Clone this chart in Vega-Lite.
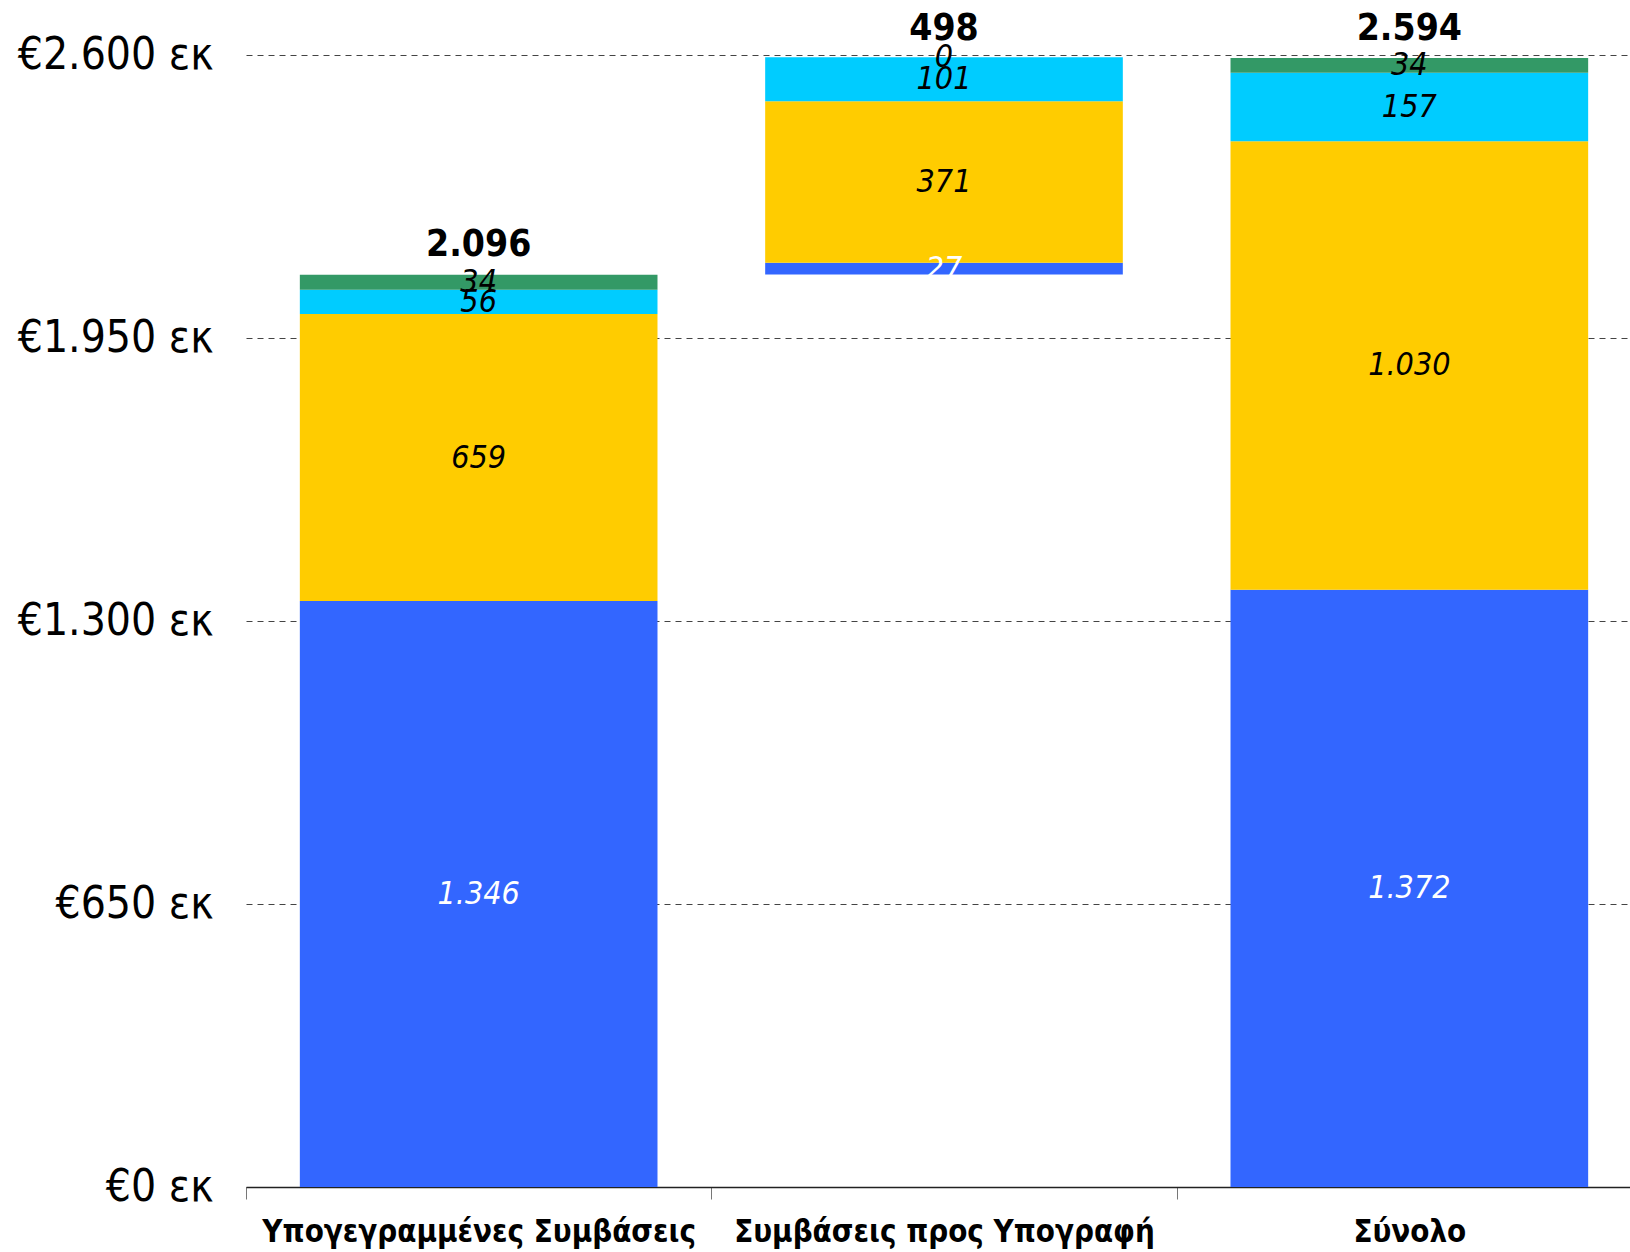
{
  "$schema": "https://vega.github.io/schema/vega-lite/v6.json",
  "width": 1396,
  "height": 1132,
  "autosize": {"type": "none"},
  "padding": {"left": 246, "top": 55, "right": 0, "bottom": 65},
  "background": "white",
  "config": {
    "view": {"stroke": null},
    "font": "DejaVu Sans Condensed",
    "locale": {
      "number": {"decimal": ",", "thousands": ".", "grouping": [3], "currency": ["€", " εκ"]}
    }
  },
  "datasets": {
    "segments": [
      {"category": "Υπογεγραμμένες Συμβάσεις", "series": "Α", "value": 1346},
      {"category": "Υπογεγραμμένες Συμβάσεις", "series": "Β", "value": 659},
      {"category": "Υπογεγραμμένες Συμβάσεις", "series": "Γ", "value": 56},
      {"category": "Υπογεγραμμένες Συμβάσεις", "series": "Δ", "value": 34},
      {"category": "Συμβάσεις προς Υπογραφή", "series": "base", "value": 2096},
      {"category": "Συμβάσεις προς Υπογραφή", "series": "Α", "value": 27},
      {"category": "Συμβάσεις προς Υπογραφή", "series": "Β", "value": 371},
      {"category": "Συμβάσεις προς Υπογραφή", "series": "Γ", "value": 101},
      {"category": "Συμβάσεις προς Υπογραφή", "series": "Δ", "value": 0},
      {"category": "Σύνολο", "series": "Α", "value": 1372},
      {"category": "Σύνολο", "series": "Β", "value": 1030},
      {"category": "Σύνολο", "series": "Γ", "value": 157},
      {"category": "Σύνολο", "series": "Δ", "value": 34}
    ],
    "totals": [
      {"category": "Υπογεγραμμένες Συμβάσεις", "total": 2096, "top": 2096},
      {"category": "Συμβάσεις προς Υπογραφή", "total": 498, "top": 2594},
      {"category": "Σύνολο", "total": 2594, "top": 2594}
    ]
  },
  "layer": [
    {
      "data": {"name": "segments"},
      "transform": [
        {"calculate": "indexof(['base','Α','Β','Γ','Δ'], datum.series)", "as": "rank"},
        {"stack": "value", "groupby": ["category"], "sort": [{"field": "rank", "order": "ascending"}], "as": ["y0", "y1"]},
        {"filter": "datum.series !== 'base'"},
        {"calculate": "(datum.y0 + datum.y1) / 2", "as": "mid"}
      ],
      "layer": [
        {
          "mark": {"type": "bar"},
          "encoding": {
            "x": {
              "field": "category", "type": "nominal", "sort": null,
              "scale": {"paddingInner": 0.2314, "paddingOuter": 0.1157},
              "axis": {
                "title": null, "labelAngle": 0, "labelFontSize": 31, "labelFontWeight": "bold",
                "labelColor": "black", "labelLimit": 1000,
                "domainColor": "#222", "domainWidth": 1.5, "tickColor": "#777", "tickSize": 12,
                "bandPosition": 0, "tickOffset": -53.8, "labelOffset": 53.8,
                "labelPadding": 18, "labelBaseline": "top"
              }
            },
            "y": {
              "field": "y0", "type": "quantitative",
              "scale": {"domain": [0, 2600], "nice": false},
              "axis": {
                "title": null, "values": [0, 650, 1300, 1950, 2600], "format": "$,.0f",
                "domain": false, "ticks": false, "labelFontSize": 44, "labelColor": "black",
                "labelPadding": 33, "labelLimit": 1000,
                "grid": true, "gridDash": [6, 5], "gridColor": "#444", "gridWidth": 1
              }
            },
            "y2": {"field": "y1"},
            "color": {
              "field": "series", "type": "nominal", "legend": null,
              "scale": {"domain": ["Α", "Β", "Γ", "Δ"], "range": ["#3366FF", "#FFCC00", "#00CCFF", "#339966"]}
            }
          }
        },
        {
          "mark": {"type": "text", "fontStyle": "italic", "fontSize": 32, "baseline": "middle", "align": "center"},
          "encoding": {
            "x": {"field": "category", "type": "nominal", "sort": null},
            "y": {"field": "mid", "type": "quantitative"},
            "text": {"field": "value", "type": "quantitative", "format": ",.0f"},
            "color": {
              "condition": {"test": "datum.series === 'Α'", "value": "white"},
              "value": "black"
            }
          }
        }
      ]
    },
    {
      "data": {"name": "totals"},
      "mark": {"type": "text", "fontWeight": "bold", "fontSize": 37, "baseline": "alphabetic", "align": "center", "dy": -18, "color": "black"},
      "encoding": {
        "x": {"field": "category", "type": "nominal", "sort": null},
        "y": {"field": "top", "type": "quantitative"},
        "text": {"field": "total", "type": "quantitative", "format": ",.0f"}
      }
    }
  ]
}
